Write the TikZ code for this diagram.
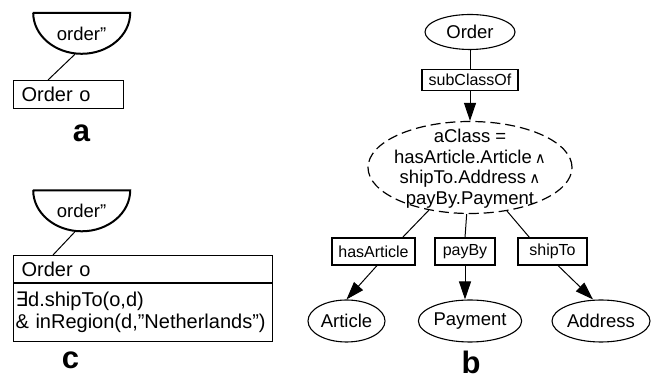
\documentclass[tikz,border=0pt]{standalone}
\usepackage{fontspec}
\setmainfont{Liberation Sans}
\newfontfamily\symfont{DejaVu Sans}
\usetikzlibrary{shapes.geometric,arrows.meta,calc}
\newcommand{\fsz}[2]{\fontsize{#1}{#2}\selectfont}
\newcommand{\andop}{\,{\symfont\fsz{15}{15}∧}}
\begin{document}
\begin{tikzpicture}[x=1pt,y=1pt,
  every node/.style={inner sep=0pt},
  cls/.style={draw, ellipse, line width=1.1pt, font=\fsz{18.5}{21}},
  rel/.style={draw, rectangle, line width=1.1pt, minimum height=27pt, font=\fsz{16}{19}},
  link/.style={line width=1pt},
  arr/.style={link, -{Triangle[length=18pt,width=12pt]}},
  bowl/.style={font=\fsz{18.5}{21}, minimum width=97pt, minimum height=41pt},
  bowlline/.style={line width=2pt},
  obox/.style={draw, line width=1.1pt, align=left, anchor=north west},
  tag/.style={font=\fsz{31}{31}\bfseries}
]
\useasboundingbox (0,0) rectangle (652,379);

% ---------- a: reference role with its object box ----------
\node[bowl] (bA) at (81.5,345.5) {order''};
\draw[bowlline] (bA.north west) -- (bA.north east)
  arc[start angle=0,end angle=-180,x radius=48.5pt,y radius=41pt] -- cycle;
\node[obox, font=\fsz{20}{23}, inner xsep=8pt, text width=94pt, minimum height=28pt]
  (oA) at (13,299) {Order o};
\draw[link] ($(bA.south)+(-6.5,0)$) -- ($(oA.north west)+(35,0)$);
\node[tag] (tagA) at (81.5,246) {a};

% ---------- c: role with a constrained object box ----------
\node[bowl] (bC) at (81.5,168) {order''};
\draw[bowlline] (bC.north west) -- (bC.north east)
  arc[start angle=0,end angle=-180,x radius=48.5pt,y radius=41pt] -- cycle;
\node[obox, font=\fsz{20}{23}, inner xsep=8pt, text width=243pt, minimum height=27pt]
  (cHead) at (13,124) {Order o};
\node[obox, font=\fsz{20}{22}, inner xsep=2pt, text width=255pt, minimum height=58pt]
  (cBody) at (cHead.south west)
  {{\symfont ∃}d.shipTo(o,d)\\\& inRegion(d,''Netherlands'')};
\draw[link] ($(bC.south)+(-6.5,0)$) -- ($(cHead.north west)+(40,0)$);
\node[tag] (tagC) at (70.5,18.5) {c};

% ---------- b: class definition graph ----------
\node[cls, minimum width=90pt, minimum height=35pt] (ord) at (470,347) {Order};
\node[rel, minimum width=96pt, minimum height=21pt] (sub) at (470,299) {subClassOf};
\node[draw, ellipse, dashed, dash pattern=on 10pt off 5pt, line width=1.2pt,
  minimum width=204pt, minimum height=92pt] (dash) at (470,211.5) {};
\node[font=\fsz{18.5}{20.5}, align=center] (dashtxt) at ([yshift=-1pt]dash.center)
  {aClass =\\hasArticle.Article\andop\\shipTo.Address\andop\\payBy.Payment};

\node[rel, minimum width=83pt] (hasA) at (373.5,127.5) {hasArticle};
\node[rel, minimum width=60pt] (payB) at (465,127.5) {payBy};
\node[rel, minimum width=69pt] (shipT) at (552.5,127.5) {shipTo};

\node[cls, minimum width=77pt, minimum height=42pt] (art) at (346.5,58) {Article};
\node[cls, minimum width=96pt, minimum height=42pt] (pay) at (470,58) {Payment};
\node[cls, minimum width=98pt, minimum height=42pt] (addr) at (601,58) {Address};

\draw[link] (ord) -- (sub);
\draw[arr] (sub.south) -- (dash.north);
\draw[link] ($(hasA.north east)+(-13,0)$) -- (dash);
\draw[link] (payB.north) -- (dash);
\draw[link] ($(shipT.north west)+(12,0)$) -- (dash);
\draw[arr] ($(hasA.south)+(3.5,0)$) -- (art.north);
\draw[arr] (payB.south) -- (payB.south |- pay.north);
\draw[arr] ($(shipT.south)+(5.5,0)$) -- ($(addr.north)+(-8,0)$);
\node[tag] (tagB) at (471,16.5) {b};
\end{tikzpicture}
\end{document}
